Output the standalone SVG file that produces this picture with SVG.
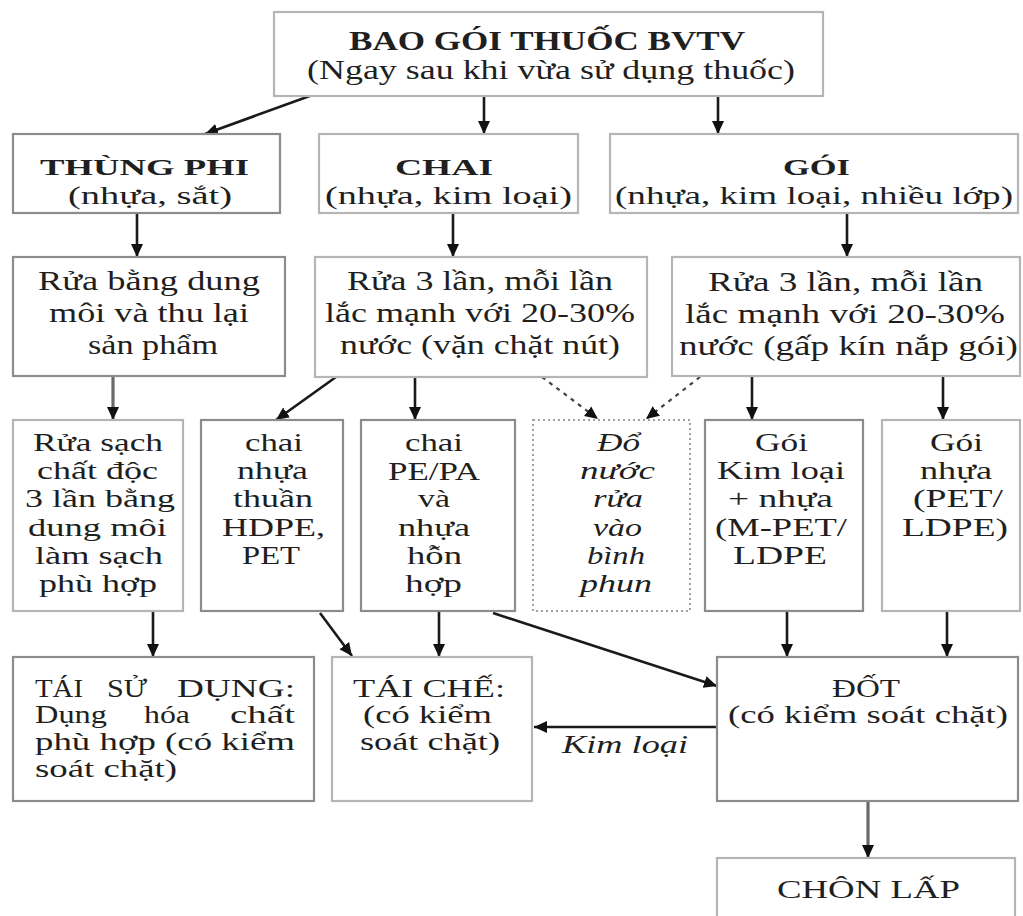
<svg xmlns="http://www.w3.org/2000/svg" width="1023" height="916" viewBox="0 0 1023 916">
<style>
.bx{fill:#fff;stroke:#8c8c8c;stroke-width:2.2}
.lt{stroke:#b5b5b5}
.dot{fill:#fff;stroke:#a0a0a0;stroke-width:2;stroke-dasharray:2,3}
.t{font-family:"Liberation Serif","DejaVu Serif",serif;fill:#1f1f1f}
.s28{font-size:28px}.s24{font-size:24px}.s27{font-size:27px}.s25{font-size:25px}
.b{font-weight:bold}.i{font-style:italic}
.ar{fill:none;stroke:#1a1a1a;stroke-width:2.6;marker-end:url(#ah)}
.gr{fill:none;stroke:#6a6a6a;stroke-width:3.2;marker-end:url(#ah)}
.da{fill:none;stroke:#444;stroke-width:2.2;stroke-dasharray:4,5;marker-end:url(#ah)}
</style>
<defs>
<marker id="ah" markerUnits="userSpaceOnUse" markerWidth="14" markerHeight="14" viewBox="0 0 14 14" refX="13" refY="7" orient="auto">
<path d="M0,1 L13,7 L0,13 z" fill="#111"/>
</marker>
</defs>
<rect width="1023" height="916" fill="#fff"/>

<g id="connectors">
<line class="ar" x1="318" y1="93" x2="205" y2="134"/>
<line class="ar" x1="484" y1="96" x2="484" y2="134"/>
<line class="ar" x1="718" y1="96" x2="718" y2="134"/>
<line class="ar" x1="137" y1="213" x2="137" y2="257"/>
<line class="ar" x1="453" y1="213" x2="453" y2="257"/>
<line class="ar" x1="847" y1="213" x2="847" y2="257"/>
<line class="gr" x1="113" y1="376" x2="113" y2="420"/>
<line class="ar" x1="336" y1="377" x2="276" y2="420"/>
<line class="ar" x1="415" y1="377" x2="415" y2="420"/>
<line class="da" x1="542" y1="377" x2="598" y2="419"/>
<line class="da" x1="700" y1="377" x2="646" y2="419"/>
<line class="ar" x1="752" y1="376" x2="752" y2="420"/>
<line class="ar" x1="943" y1="376" x2="943" y2="420"/>
<line class="ar" x1="153" y1="611" x2="153" y2="657"/>
<line class="ar" x1="320" y1="613" x2="352" y2="656"/>
<line class="ar" x1="439" y1="611" x2="439" y2="657"/>
<line class="ar" x1="493" y1="613" x2="717" y2="686"/>
<line class="ar" x1="787" y1="611" x2="787" y2="657"/>
<line class="ar" x1="947" y1="611" x2="947" y2="657"/>
<line class="ar" x1="717" y1="727" x2="534" y2="727"/>
<line class="gr" x1="868" y1="801" x2="868" y2="858"/>
<text class="t s25 i" x="562" y="753" textLength="126" lengthAdjust="spacingAndGlyphs">Kim loại</text>
</g>

<g id="n-top">
<rect class="bx lt" x="274" y="12" width="549" height="84"/>
<text class="t s28 b" x="349" y="50" textLength="396" lengthAdjust="spacingAndGlyphs">BAO GÓI THUỐC BVTV</text>
<text class="t s28" x="307" y="79" textLength="488" lengthAdjust="spacingAndGlyphs">(Ngay sau khi vừa sử dụng thuốc)</text>
</g>

<g id="n-thungphi">
<rect class="bx" x="13" y="134" width="267" height="79"/>
<text class="t s24 b" x="40" y="175" textLength="209" lengthAdjust="spacingAndGlyphs">THÙNG PHI</text>
<text class="t s25" x="68" y="204" textLength="164" lengthAdjust="spacingAndGlyphs">(nhựa, sắt)</text>
</g>

<g id="n-chai">
<rect class="bx lt" x="319" y="134" width="259" height="79"/>
<text class="t s24 b" x="395" y="175" textLength="98" lengthAdjust="spacingAndGlyphs">CHAI</text>
<text class="t s25" x="325" y="204" textLength="247" lengthAdjust="spacingAndGlyphs">(nhựa, kim loại)</text>
</g>

<g id="n-goi">
<rect class="bx lt" x="610" y="134" width="408" height="79"/>
<text class="t s24 b" x="783" y="175" textLength="67" lengthAdjust="spacingAndGlyphs">GÓI</text>
<text class="t s25" x="615" y="204" textLength="398" lengthAdjust="spacingAndGlyphs">(nhựa, kim loại, nhiều lớp)</text>
</g>

<g id="n-rua-thung">
<rect class="bx" x="13" y="257" width="272" height="119"/>
<text class="t s27" x="38" y="290" textLength="222" lengthAdjust="spacingAndGlyphs">Rửa bằng dung</text>
<text class="t s27" x="49" y="322" textLength="200" lengthAdjust="spacingAndGlyphs">môi và thu lại</text>
<text class="t s27" x="88" y="354" textLength="130" lengthAdjust="spacingAndGlyphs">sản phẩm</text>
</g>

<g id="n-rua-chai">
<rect class="bx lt" x="315" y="257" width="332" height="120"/>
<text class="t s27" x="347" y="290" textLength="266" lengthAdjust="spacingAndGlyphs">Rửa 3 lần, mỗi lần</text>
<text class="t s27" x="325" y="322" textLength="310" lengthAdjust="spacingAndGlyphs">lắc mạnh với 20-30%</text>
<text class="t s27" x="340" y="354" textLength="280" lengthAdjust="spacingAndGlyphs">nước (vặn chặt nút)</text>
</g>

<g id="n-rua-goi">
<rect class="bx lt" x="672" y="257" width="348" height="119"/>
<text class="t s27" x="708" y="291" textLength="275" lengthAdjust="spacingAndGlyphs">Rửa 3 lần, mỗi lần</text>
<text class="t s27" x="685" y="323" textLength="320" lengthAdjust="spacingAndGlyphs">lắc mạnh với 20-30%</text>
<text class="t s27" x="679" y="355" textLength="339" lengthAdjust="spacingAndGlyphs">nước (gấp kín nắp gói)</text>
</g>

<g id="n-rua-sach">
<rect class="bx lt" x="13" y="420" width="170" height="191"/>
<text class="t s25" x="33" y="451" textLength="130" lengthAdjust="spacingAndGlyphs">Rửa sạch</text>
<text class="t s25" x="37" y="479" textLength="121" lengthAdjust="spacingAndGlyphs">chất độc</text>
<text class="t s25" x="25" y="507" textLength="150" lengthAdjust="spacingAndGlyphs">3 lần bằng</text>
<text class="t s25" x="28" y="536" textLength="139" lengthAdjust="spacingAndGlyphs">dung môi</text>
<text class="t s25" x="35" y="564" textLength="128" lengthAdjust="spacingAndGlyphs">làm sạch</text>
<text class="t s25" x="39" y="592" textLength="118" lengthAdjust="spacingAndGlyphs">phù hợp</text>
</g>

<g id="n-hdpe">
<rect class="bx" x="201" y="420" width="142" height="191"/>
<text class="t s25" x="245" y="451" textLength="58" lengthAdjust="spacingAndGlyphs">chai</text>
<text class="t s25" x="237" y="479" textLength="71" lengthAdjust="spacingAndGlyphs">nhựa</text>
<text class="t s25" x="233" y="507" textLength="80" lengthAdjust="spacingAndGlyphs">thuần</text>
<text class="t s25" x="222" y="536" textLength="103" lengthAdjust="spacingAndGlyphs">HDPE,</text>
<text class="t s25" x="242" y="564" textLength="58" lengthAdjust="spacingAndGlyphs">PET</text>
</g>

<g id="n-pepa">
<rect class="bx" x="361" y="420" width="154" height="191"/>
<text class="t s25" x="405" y="451" textLength="58" lengthAdjust="spacingAndGlyphs">chai</text>
<text class="t s25" x="388" y="480" textLength="92" lengthAdjust="spacingAndGlyphs">PE/PA</text>
<text class="t s25" x="418" y="507" textLength="32" lengthAdjust="spacingAndGlyphs">và</text>
<text class="t s25" x="398" y="536" textLength="72" lengthAdjust="spacingAndGlyphs">nhựa</text>
<text class="t s25" x="407" y="564" textLength="55" lengthAdjust="spacingAndGlyphs">hỗn</text>
<text class="t s25" x="405" y="592" textLength="57" lengthAdjust="spacingAndGlyphs">hợp</text>
</g>

<g id="n-do-nuoc">
<rect class="dot" x="533" y="420" width="157" height="191"/>
<text class="t s25 i" x="597" y="451" textLength="43" lengthAdjust="spacingAndGlyphs">Đổ</text>
<text class="t s25 i" x="580" y="479" textLength="75" lengthAdjust="spacingAndGlyphs">nước</text>
<text class="t s25 i" x="593" y="507" textLength="50" lengthAdjust="spacingAndGlyphs">rửa</text>
<text class="t s25 i" x="593" y="536" textLength="49" lengthAdjust="spacingAndGlyphs">vào</text>
<text class="t s25 i" x="587" y="564" textLength="58" lengthAdjust="spacingAndGlyphs">bình</text>
<text class="t s25 i" x="580" y="592" textLength="72" lengthAdjust="spacingAndGlyphs">phun</text>
</g>

<g id="n-goi-kl">
<rect class="bx" x="705" y="420" width="158" height="191"/>
<text class="t s25" x="755" y="451" textLength="53" lengthAdjust="spacingAndGlyphs">Gói</text>
<text class="t s25" x="717" y="479" textLength="128" lengthAdjust="spacingAndGlyphs">Kim loại</text>
<text class="t s25" x="728" y="507" textLength="105" lengthAdjust="spacingAndGlyphs">+ nhựa</text>
<text class="t s25" x="715" y="536" textLength="132" lengthAdjust="spacingAndGlyphs">(M-PET/</text>
<text class="t s25" x="733" y="564" textLength="94" lengthAdjust="spacingAndGlyphs">LDPE</text>
</g>

<g id="n-goi-nhua">
<rect class="bx lt" x="882" y="420" width="138" height="191"/>
<text class="t s25" x="930" y="451" textLength="53" lengthAdjust="spacingAndGlyphs">Gói</text>
<text class="t s25" x="920" y="479" textLength="72" lengthAdjust="spacingAndGlyphs">nhựa</text>
<text class="t s25" x="913" y="507" textLength="90" lengthAdjust="spacingAndGlyphs">(PET/</text>
<text class="t s25" x="902" y="536" textLength="106" lengthAdjust="spacingAndGlyphs">LDPE)</text>
</g>

<g id="n-tai-su-dung">
<rect class="bx" x="13" y="657" width="301" height="144"/>
<text class="t s25" y="697"><tspan x="35" textLength="48" lengthAdjust="spacingAndGlyphs">TÁI</tspan> <tspan x="107" textLength="40" lengthAdjust="spacingAndGlyphs">SỬ</tspan> <tspan x="177" textLength="118" lengthAdjust="spacingAndGlyphs">DỤNG:</tspan></text>
<text class="t s25" y="723"><tspan x="35" textLength="72" lengthAdjust="spacingAndGlyphs">Dụng</tspan> <tspan x="144" textLength="46" lengthAdjust="spacingAndGlyphs">hóa</tspan> <tspan x="230" textLength="65" lengthAdjust="spacingAndGlyphs">chất</tspan></text>
<text class="t s25" x="35" y="750" textLength="260" lengthAdjust="spacingAndGlyphs">phù hợp (có kiểm</text>
<text class="t s25" x="35" y="777" textLength="142" lengthAdjust="spacingAndGlyphs">soát chặt)</text>
</g>

<g id="n-tai-che">
<rect class="bx lt" x="332" y="657" width="200" height="144"/>
<text class="t s25" x="353" y="697" textLength="152" lengthAdjust="spacingAndGlyphs">TÁI CHẾ:</text>
<text class="t s25" x="363" y="723" textLength="129" lengthAdjust="spacingAndGlyphs">(có kiểm</text>
<text class="t s25" x="360" y="750" textLength="140" lengthAdjust="spacingAndGlyphs">soát chặt)</text>
</g>

<g id="n-dot">
<rect class="bx" x="717" y="657" width="301" height="144"/>
<text class="t s25" x="832" y="697" textLength="68" lengthAdjust="spacingAndGlyphs">ĐỐT</text>
<text class="t s25" x="728" y="723" textLength="280" lengthAdjust="spacingAndGlyphs">(có kiểm soát chặt)</text>
</g>

<g id="n-chon-lap">
<rect class="bx lt" x="717" y="858" width="298" height="70"/>
<text class="t s25" x="777" y="898" textLength="183" lengthAdjust="spacingAndGlyphs">CHÔN LẤP</text>
</g>
</svg>
